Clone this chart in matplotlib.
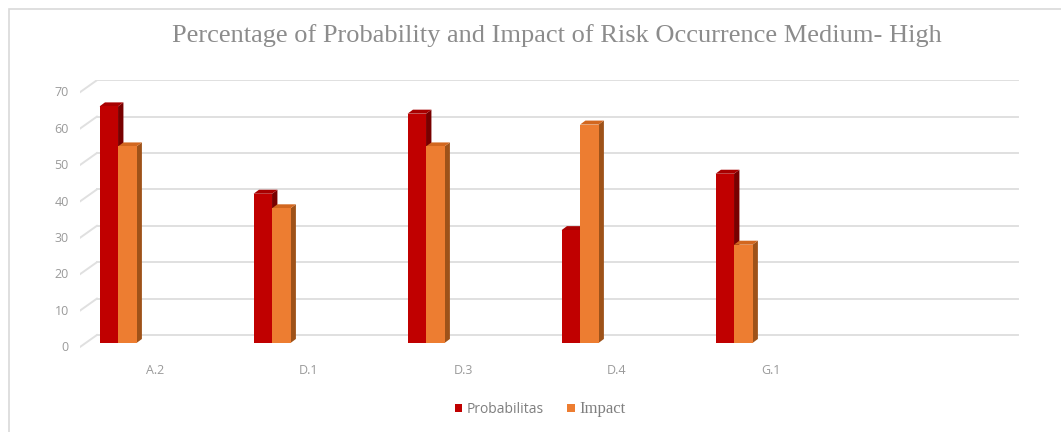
import numpy as np
import matplotlib.pyplot as plt
from matplotlib.patches import Polygon, Patch, Rectangle

# Risk codes and their percentages
categories = ['A.2', 'D.1', 'D.3', 'D.4', 'G.1', '']
probabilitas = [65, 41, 63, 31, 46.5, 0]
impact = [54, 37, 54, 60, 27, 0]
yticks = [0, 10, 20, 30, 40, 50, 60, 70]

red_front, red_top, red_side = '#C00000', '#A80000', '#780000'
org_front, org_top, org_side = '#ED7D31', '#D2671F', '#9E5219'
grid_col = '#E0E0E0'
text_col = '#9A9A9A'

W, H = 1061, 432
fig = plt.figure(figsize=(W / 100, H / 100), dpi=100)
fig.patch.set_facecolor('white')

# outer chart frame (top and left edges visible)
fig.add_artist(Rectangle((9 / W, -0.1), 1.2, (H - 9) / H + 0.1, transform=fig.transFigure,
                         fill=False, edgecolor='#D9D9D9', linewidth=1.2))

# axes placed in pixels: x 80..1020, y 80..355 (from top)
ax = fig.add_axes([80 / W, 1 - 355 / H, 940 / W, 275 / H])
ax.set_xlim(-0.487, 5.617)
ax.set_ylim(-3.3, 72.25)
ax.axis('off')

# pseudo-3D depth of the walls and bars (data units)
back_dx, back_dy = 0.11, 2.2
front_dy = -1.1
bar_dx, bar_dy = 0.035, 1.1

# back-wall gridlines with short slanted floor edges
for v in yticks:
    ax.plot([-0.377, 5.604], [v + back_dy, v + back_dy], color=grid_col, lw=1.4, zorder=1)
    ax.plot([-0.487, -0.377], [v + front_dy, v + back_dy], color=grid_col, lw=1.4, zorder=1)
    ax.text(-0.56, v - 1.3, str(v), ha='right', va='center', color=text_col,
            fontsize=9, family='Open Sans')

def bar3d(xc, w, v, front, top, side):
    x0 = xc - w / 2
    ax.add_patch(Polygon([(x0, 0), (x0 + w, 0), (x0 + w, v), (x0, v)],
                         closed=True, facecolor=front, edgecolor='none', zorder=3))
    ax.add_patch(Polygon([(x0 + w, 0), (x0 + w + bar_dx, bar_dy), (x0 + w + bar_dx, v + bar_dy),
                          (x0 + w, v)], closed=True, facecolor=side, edgecolor='none', zorder=2))
    ax.add_patch(Polygon([(x0, v), (x0 + w, v), (x0 + w + bar_dx, v + bar_dy),
                          (x0 + bar_dx, v + bar_dy)], closed=True, facecolor=top,
                         edgecolor='none', zorder=2))

bw = 0.12
x = np.arange(len(categories))
for i in range(len(categories)):
    if probabilitas[i] > 0:
        bar3d(x[i] - 0.30, bw, probabilitas[i], red_front, red_top, red_side)
    if impact[i] > 0:
        bar3d(x[i] - 0.18, bw, impact[i], org_front, org_top, org_side)
    ax.text(x[i], -7.6, categories[i], ha='center', va='center', color=text_col,
            fontsize=9, family='Open Sans')

fig.text(557 / W, 1 - 36 / H, 'Percentage of Probability and Impact of Risk Occurrence Medium- High',
         ha='center', va='center', color='#8C8C8C', fontsize=19, family='Liberation Serif')

handles = [Patch(facecolor=red_front), Patch(facecolor=org_front)]
leg = fig.legend(handles, ['Probabilitas', 'Impact'], loc='center', ncol=2,
                 bbox_to_anchor=(540 / W, 1 - 409 / H), frameon=False, fontsize=10,
                 handlelength=0.55, handleheight=0.55, handletextpad=0.3, columnspacing=1.7)
for t in leg.get_texts():
    t.set_color('#7F7F7F')
leg.get_texts()[0].set_family('Open Sans')
leg.get_texts()[1].set_family('Liberation Serif')
leg.get_texts()[1].set_fontsize(12)

fig.savefig('out.png', dpi=100)
